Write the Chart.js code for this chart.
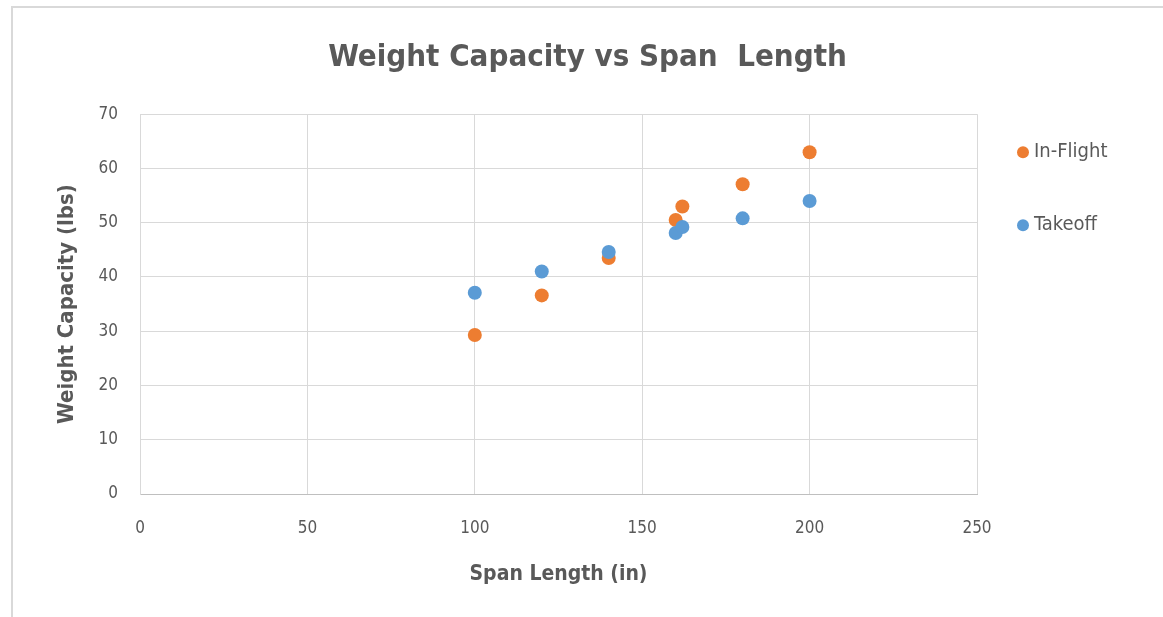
<!DOCTYPE html>
<html>
<head>
<meta charset="utf-8">
<script src="https://cdn.jsdelivr.net/npm/chart.js@4.4.1/dist/chart.umd.min.js"></script>
<style>
  html, body { margin: 0; padding: 0; background: #fff; }
  #wrap { position: relative; width: 1163px; height: 617px; }
  #frame { position: absolute; left: 11px; top: 6px; right: 0; bottom: 0;
           border-top: 2px solid #d9d9d9; border-left: 2px solid #d9d9d9; }
  canvas { position: absolute; left: 0; top: 0; }
</style>
</head>
<body>
<div id="wrap">
  <div id="frame"></div>
  <canvas id="spanChart" width="1163" height="617"></canvas>
</div>
<script>
// span length (in) and measured capacities (lbs)
const spanLengths = [100, 120, 140, 160, 162, 180, 200];
const inFlightLoads = [29.3, 36.6, 43.5, 50.5, 53.0, 57.1, 63.0];
const takeoffLoads = [37.1, 41.0, 44.6, 48.1, 49.2, 50.8, 54.0];
const seriesNames = ["In-Flight", "Takeoff"];
const seriesColors = ["#ED7D31", "#5B9BD5"];

const FONT = '"Liberation Sans Narrow", "DejaVu Sans Condensed", Lato, sans-serif';
const TEXT = "#595959";
const GRID = "#d9d9d9";

Chart.defaults.font.family = FONT;
Chart.defaults.color = TEXT;

const toPoints = (ys) => spanLengths.map((x, i) => ({ x: x, y: ys[i] }));

// simple legend on the right, drawn beside the plot
const sideLegend = {
  id: "sideLegend",
  afterDraw(chart) {
    const ctx = chart.ctx;
    const area = chart.chartArea;
    ctx.save();
    ctx.font = "20px " + FONT;
    ctx.textBaseline = "middle";
    seriesNames.forEach((name, i) => {
      const cx = area.right + 46;
      const cy = area.top + 38 + i * 73;
      ctx.fillStyle = seriesColors[i];
      ctx.beginPath();
      ctx.arc(cx, cy, 6, 0, Math.PI * 2);
      ctx.fill();
      ctx.fillStyle = TEXT;
      ctx.fillText(name, cx + 11, cy);
    });
    ctx.restore();
  },
};

const ctx = document.getElementById("spanChart").getContext("2d");
const spanChart = new Chart(ctx, {
  type: "scatter",
  data: {
    datasets: [
      {
        label: seriesNames[0],
        data: toPoints(inFlightLoads),
        backgroundColor: seriesColors[0],
        borderWidth: 0,
        pointRadius: 7,
        order: 1,
      },
      {
        label: seriesNames[1],
        data: toPoints(takeoffLoads),
        backgroundColor: seriesColors[1],
        borderWidth: 0,
        pointRadius: 7,
        order: 0,
      },
    ],
  },
  options: {
    responsive: false,
    animation: false,
    layout: { padding: { left: 12, right: 0, top: 0, bottom: 0 } },
    plugins: {
      legend: { display: false },
      tooltip: { enabled: false },
      title: {
        display: true,
        text: "Weight Capacity vs Span  Length",
        color: TEXT,
        font: { size: 31, weight: "bold" },
        padding: { top: 39, bottom: 38 },
      },
    },
    scales: {
      x: {
        type: "linear",
        min: 0,
        max: 250,
        ticks: { stepSize: 50, font: { size: 17 }, color: TEXT, padding: 24 },
        grid: { color: GRID, drawTicks: false },
        border: { color: "#bfbfbf" },
        title: {
          display: true,
          text: "Span Length (in)",
          color: TEXT,
          font: { size: 21, weight: "bold" },
          padding: { top: 0, bottom: 30 },
        },
        afterFit(scale) { scale.height = 123; },
      },
      y: {
        type: "linear",
        min: 0,
        max: 70,
        ticks: { stepSize: 10, font: { size: 17 }, color: TEXT, padding: 22 },
        grid: { color: GRID, drawTicks: false },
        border: { color: GRID },
        title: {
          display: true,
          text: "Weight Capacity (lbs)",
          color: TEXT,
          font: { size: 22, weight: "bold" },
          padding: { top: 42, bottom: 0 },
        },
        afterFit(scale) { scale.width = 128; },
      },
      // empty axis that reserves room on the right for the legend
      legendSpace: {
        type: "linear",
        position: "right",
        min: 0,
        max: 70,
        ticks: { display: false },
        grid: { display: false, drawTicks: false },
        border: { display: false },
        afterFit(scale) { scale.width = 186; },
      },
    },
  },
  plugins: [sideLegend],
});
</script>
</body>
</html>
